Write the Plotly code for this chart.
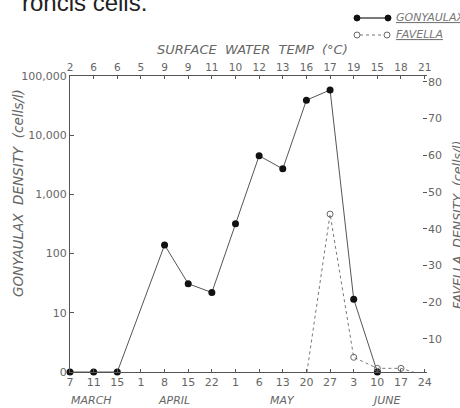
import plotly.graph_objects as go

# ---- data ----
dates = ["Mar 7", "Mar 11", "Mar 15", "Apr 1", "Apr 8", "Apr 15", "Apr 22", "May 1",
         "May 6", "May 13", "May 20", "May 27", "Jun 3", "Jun 10", "Jun 17", "Jun 24"]
day_labels = ["7", "11", "15", "1", "8", "15", "22", "1", "6", "13", "20", "27", "3", "10", "17", "24"]
temps = ["2", "6", "6", "5", "9", "9", "11", "10", "12", "13", "16", "17", "19", "15", "18", "21"]
months = ["MARCH", "APRIL", "MAY", "JUNE"]
month_pos = [0.9, 4.4, 9.0, 13.4]

gonyaulax = [0, 0, 0, None, 140, 31, 22, 320, 4500, 2700, 39000, 58000, 17, 0, None, None]
favella = [0, 0, 0, 0, 0, 0, 0, 0, 0, 0, 0, 44, 5, 2, 2, 0]

left_tickvals = [1, 10, 100, 1000, 10000, 100000]
left_ticktext = ["0", "10", "100", "1,000", "10,000", "100,000"]
right_tickvals = [10, 20, 30, 40, 50, 60, 70, 80]

# ---- layout constants ----
W, H = 460, 408
ML, MR, MT, MB = 70, 33, 76, 36
PW, PH = W - ML - MR, H - MT - MB

def px(x):
    return (x - ML) / PW

def py(y):
    return (H - MB - y) / PH

GRAY = "#555555"
TXT = "#666666"
FONT = "DejaVu Sans"

# log axis shows zero at 1
gon_plot = [None if v is None else (v if v > 0 else 1) for v in gonyaulax]

fig = go.Figure()

fig.add_trace(go.Scatter(
    x=dates, y=favella, yaxis="y2", mode="lines+markers",
    line=dict(color="#777777", width=1, dash="3px,3px"),
    marker=dict(symbol="circle-open", size=6, color="#666666", line=dict(width=1)),
    cliponaxis=False, showlegend=False, hoverinfo="skip"))

fig.add_trace(go.Scatter(
    x=dates, y=gon_plot, mode="lines+markers", connectgaps=True,
    line=dict(color="#555555", width=1),
    marker=dict(symbol="circle", size=7, color="#111111"),
    cliponaxis=False, showlegend=False, hoverinfo="skip"))

# invisible trace to carry the top (temperature) axis
fig.add_trace(go.Scatter(
    x=dates, y=[None] * len(dates), xaxis="x2", mode="markers",
    showlegend=False, hoverinfo="skip"))

xr = [0, 15.1]
fig.update_layout(
    width=W, height=H, margin=dict(l=ML, r=MR, t=MT, b=MB),
    paper_bgcolor="white", plot_bgcolor="white",
    font=dict(family=FONT, size=11, color=TXT),
    xaxis=dict(type="category", categoryarray=dates, range=xr,
               tickvals=dates, ticktext=day_labels, showgrid=False, zeroline=False,
               showline=True, linecolor=GRAY, linewidth=1,
               ticks="inside", ticklen=3, tickcolor=GRAY,
               tickfont=dict(size=11, color=TXT, family=FONT)),
    xaxis2=dict(type="category", categoryarray=dates, range=xr, overlaying="x",
                side="top", tickvals=dates, ticktext=temps, showgrid=False,
                zeroline=False, showline=True, linecolor=GRAY, linewidth=1,
                ticks="inside", ticklen=3, tickcolor=GRAY,
                tickfont=dict(size=10.5, color=TXT, family=FONT)),
    yaxis=dict(type="log", range=[0, 5], tickvals=left_tickvals, ticktext=left_ticktext,
               showgrid=False, zeroline=False, showline=True, linecolor=GRAY,
               linewidth=1, ticks="inside", ticklen=4, tickcolor=GRAY,
               tickfont=dict(size=11, color=TXT, family=FONT)),
    yaxis2=dict(range=[1.0, 81.6], overlaying="y", side="right",
                tickvals=right_tickvals, showgrid=False, zeroline=False,
                showline=False, ticks="inside", ticklen=4, tickcolor=GRAY,
                tickfont=dict(size=11, color=TXT, family=FONT)),
)

ann = []
# month labels
for m, pos in zip(months, month_pos):
    ann.append(dict(x=pos, xref="x", y=py(400), yref="paper", yanchor="middle",
                    xanchor="center", text=f"<i>{m}</i>",
                    showarrow=False, font=dict(size=11, color=TXT, family=FONT)))
# top title
ann.append(dict(x=px(253), y=py(50), xref="paper", yref="paper", xanchor="center",
                yanchor="middle", text="<i>SURFACE  WATER  TEMP  (°C)</i>", showarrow=False,
                font=dict(size=13, color=TXT, family=FONT)))
# axis titles
ann.append(dict(x=px(18), y=py(193), xref="paper", yref="paper", textangle=-90,
                xanchor="center", yanchor="middle",
                text="<i>GONYAULAX  DENSITY  (cells/l)</i>", showarrow=False,
                font=dict(size=13.5, color=TXT, family=FONT)))
ann.append(dict(x=px(457), y=py(225), xref="paper", yref="paper", textangle=-90,
                xanchor="center", yanchor="middle",
                text="<i>FAVELLA  DENSITY  (cells/l)</i>", showarrow=False,
                font=dict(size=12.5, color=TXT, family=FONT)))
# legend text
ann.append(dict(x=px(394), y=py(18), xref="paper", yref="paper", xanchor="left",
                yanchor="middle", text="<i><u>GONYAULAX</u></i>", showarrow=False,
                font=dict(size=11, color="#777777", family=FONT)))
ann.append(dict(x=px(394), y=py(35), xref="paper", yref="paper", xanchor="left",
                yanchor="middle", text="<i><u>FAVELLA</u></i>", showarrow=False,
                font=dict(size=11, color="#777777", family=FONT)))
# clipped text fragment at top
ann.append(dict(x=px(20), y=py(3), xref="paper", yref="paper", xanchor="left",
                yanchor="middle", text="roncis cells.", showarrow=False,
                font=dict(size=24, color="#222222", family="Liberation Sans")))
fig.update_layout(annotations=ann)

# legend symbols
shapes = [
    dict(type="line", xref="paper", yref="paper", x0=px(357), x1=px(388), y0=py(18), y1=py(18),
         line=dict(color="#222222", width=1.2)),
    dict(type="circle", xref="paper", yref="paper", x0=px(354), x1=px(360), y0=py(15), y1=py(21),
         fillcolor="#111111", line=dict(color="#111111", width=1)),
    dict(type="circle", xref="paper", yref="paper", x0=px(385), x1=px(391), y0=py(15), y1=py(21),
         fillcolor="#111111", line=dict(color="#111111", width=1)),
    dict(type="line", xref="paper", yref="paper", x0=px(360), x1=px(384), y0=py(35), y1=py(35),
         line=dict(color="#777777", width=1, dash="3px,3px")),
    dict(type="circle", xref="paper", yref="paper", x0=px(354), x1=px(360), y0=py(32), y1=py(38),
         fillcolor="white", line=dict(color="#666666", width=1)),
    dict(type="circle", xref="paper", yref="paper", x0=px(384), x1=px(390), y0=py(32), y1=py(38),
         fillcolor="white", line=dict(color="#666666", width=1)),
]
fig.update_layout(shapes=shapes)

fig.write_html("out.html", config={"displayModeBar": False},
               post_script="document.body.style.margin='0';document.body.style.overflow='hidden';")
